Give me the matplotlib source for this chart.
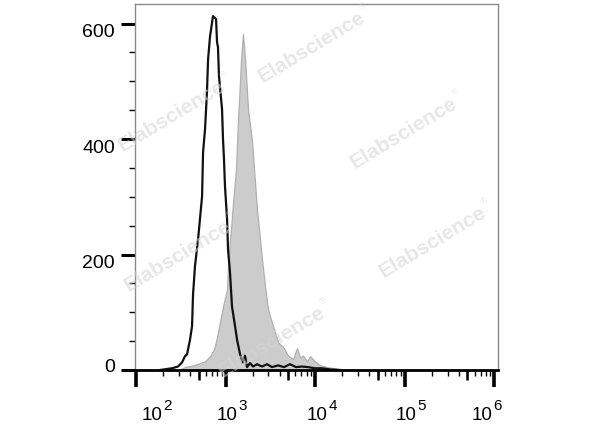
import numpy as np
import matplotlib
matplotlib.use("Agg")
import matplotlib.pyplot as plt
from matplotlib import transforms
from matplotlib.ticker import FixedLocator, NullFormatter, MultipleLocator

plt.rcParams['font.family'] = ['Liberation Sans', 'DejaVu Sans']

# ---- data ----
black_x = [185, 252, 294, 326, 352, 371, 401, 422, 433, 455, 492, 505, 546, 560,
           589, 619, 637, 670, 723, 782, 802, 822, 843, 912, 935, 959, 984, 1038,
           1064, 1119, 1178, 1274, 1340, 1449, 1563, 1648, 1734, 1871, 2023, 2239,
           2547, 2897, 3296, 3846, 4487, 5234, 6106, 7124, 8311, 9954, 11913,
           14630, 18900]
black_y = [0, 3, 6, 13, 24, 27, 53, 76, 131, 180, 226, 244, 301, 377,
           417, 481, 538, 578, 613, 608, 568, 559, 509, 452, 400, 365, 318, 261,
           209, 169, 110, 76, 53, 27, 13, 25, 5, 12, 6, 10,
           6, 10, 5, 8, 5, 10, 5, 6, 5, 3, 3,
           1, 0]

gray_x = [310, 352, 433, 518, 589, 670, 743, 802, 867, 935, 1038, 1064, 1119,
          1148, 1211, 1306, 1374, 1429, 1486, 1563, 1648, 1778, 1972, 2239, 2547,
          2754, 2972, 3381, 3846, 4375, 4966, 5649, 6266, 6761, 7311, 8091, 8750,
          9954, 11324, 13552, 16634, 18923, 21528]
gray_y = [1, 5, 8, 12, 15, 24, 36, 57, 84, 110, 140, 180, 226,
          244, 291, 348, 434, 481, 538, 582, 538, 452, 395, 278, 192,
          145, 105, 76, 48, 40, 25, 19, 38, 22, 25, 15, 24,
          15, 8, 5, 3, 1, 0]

x_major = [1e2, 1e3, 1e4, 1e5, 1e6]
x_exponents = ['2', '3', '4', '5', '6']
y_major = [0, 200, 400, 600]
y_labels = ['0', '200', '400', '600']

W, H = 600, 427
fig = plt.figure(figsize=(W / 100, H / 100), dpi=100)
ax = fig.add_axes([134.5 / W, 1 - 371 / H, (498 - 134.5) / W, (371 - 5) / H])

ax.fill_between(gray_x, gray_y, 0, facecolor='#cccccc', edgecolor='#b0b0b0',
                linewidth=0.9, zorder=2)
ax.plot(black_x, black_y, color='#111111', linewidth=1.6, zorder=4)

ax.set_xscale('log')
ax.set_xlim(10 ** 1.983, 10 ** 6.04)
ax.set_ylim(0, 634)

# x ticks
ax.xaxis.set_major_locator(FixedLocator(x_major))
ax.xaxis.set_major_formatter(NullFormatter())
minor = [m * 10 ** e for e in range(1, 7) for m in range(2, 10)]
ax.xaxis.set_minor_locator(FixedLocator(minor))
ax.xaxis.set_minor_formatter(NullFormatter())
ax.tick_params(axis='x', which='major', length=12, width=2.6, direction='out',
               colors='black')
ax.tick_params(axis='x', which='minor', length=4, width=1.0, direction='out')
sec = ax.secondary_xaxis('bottom')
sec.set_xticks([5 * 10 ** e for e in range(1, 6)])
sec.set_xticklabels([])
sec.tick_params(length=7, width=1.8, direction='out')
sec.spines['bottom'].set_visible(False)

# x tick labels "10" + superscript exponent, centred with the reference offsets
blend = transforms.blended_transform_factory(ax.transData, ax.transAxes)
base_fs, exp_fs = 13.5, 11
w10 = 2 * 0.556 * base_fs * 100 / 72
wexp = 0.556 * exp_fs * 100 / 72
for xv, ex, dx in zip(x_major, x_exponents, [21, 6, 7, 6, -8]):
    left = dx - (w10 + wexp + 1) / 2
    t1 = blend + transforms.ScaledTranslation(left / 100, -49 / 100, fig.dpi_scale_trans)
    ax.text(xv, 0, '10', transform=t1, fontsize=base_fs, ha='left', va='baseline',
            clip_on=False)
    t2 = blend + transforms.ScaledTranslation((left + w10 + 1) / 100, -39 / 100,
                                              fig.dpi_scale_trans)
    ax.text(xv, 0, ex, transform=t2, fontsize=exp_fs, ha='left', va='baseline',
            clip_on=False)

# y ticks
ax.yaxis.set_major_locator(FixedLocator(y_major))
ax.set_yticklabels(y_labels)
ax.yaxis.set_minor_locator(MultipleLocator(50))
ax.tick_params(axis='y', which='major', length=10, width=2.2, direction='out',
               labelsize=14, pad=4)
ax.tick_params(axis='y', which='minor', length=4, width=1.0, direction='out')
for lab, dy in zip(ax.get_yticklabels(), [5, -6, -6, -6]):
    lab.set_transform(lab.get_transform() +
                      transforms.ScaledTranslation(0, dy / 100, fig.dpi_scale_trans))

for s in ['top', 'right', 'left']:
    ax.spines[s].set_color('#8a8a8a')
    ax.spines[s].set_linewidth(1.0)
ax.spines['bottom'].set_color('black')
ax.spines['bottom'].set_linewidth(2.0)
ax.spines['bottom'].set_zorder(5)

# watermarks
centers = [(312, 47), (172, 116), (404, 133), (178, 256), (433, 242), (272, 342)]
ang = 31
u = np.array([np.cos(np.radians(ang)), np.sin(np.radians(ang))])
n = np.array([-np.sin(np.radians(ang)), np.cos(np.radians(ang))])
for cx, cy in centers:
    p = np.array([cx, H - cy])
    fig.text(p[0] / W, p[1] / H, 'Elabscience', fontsize=15, fontweight='bold',
             color='#d4d4d4', alpha=0.55, rotation=ang, rotation_mode='anchor',
             ha='center', va='center', zorder=3)
    q = p + u * 65 + n * 8
    fig.text(q[0] / W, q[1] / H, '®', fontsize=6.5, color='#d4d4d4', alpha=0.55,
             rotation=ang, rotation_mode='anchor', ha='center', va='center', zorder=3)

fig.savefig('out.png', dpi=100)
